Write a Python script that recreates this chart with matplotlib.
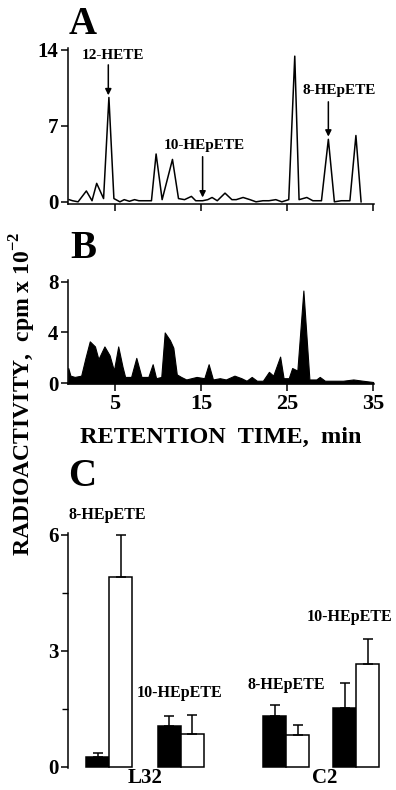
import matplotlib
matplotlib.use("Agg")
import matplotlib.pyplot as plt
import numpy as np

plt.rcParams["font.family"] = ["Liberation Serif", "DejaVu Serif"]
plt.rcParams["font.weight"] = "bold"
plt.rcParams["mathtext.fontset"] = "custom"
plt.rcParams["mathtext.rm"] = "Liberation Serif:bold"
plt.rcParams["mathtext.bf"] = "Liberation Serif:bold"

# -- Panel A : radio-HPLC trace (line) ------------------------------------
a_time = [-0.3, 0.1, 0.74, 1.7, 2.36, 2.9, 3.7, 4.32, 4.9, 5.6, 6.1, 6.7,
          7.3, 7.8, 8.6, 9.26, 9.8, 10.5, 11.7, 12.4, 13.1, 13.9, 14.4,
          15.2, 15.8, 16.3, 16.9, 17.8, 18.6, 19.1, 19.9, 20.7, 21.4,
          22.2, 22.9, 23.7, 24.4, 25.2, 25.9, 26.4, 27.3, 28.0, 29.0,
          29.8, 30.5, 31.3, 32.3, 33.0, 33.6]
a_cpm = [0.2, 0.1, 0.0, 1.0, 0.1, 1.7, 0.3, 9.6, 0.3, 0.0, 0.2, 0.05,
         0.2, 0.1, 0.1, 0.1, 4.4, 0.2, 3.9, 0.3, 0.2, 0.5, 0.1,
         0.1, 0.2, 0.4, 0.1, 0.8, 0.2, 0.2, 0.4, 0.2, 0.0,
         0.1, 0.1, 0.2, 0.0, 0.2, 13.4, 0.2, 0.4, 0.1, 0.1,
         5.75, 0.0, 0.1, 0.1, 6.1, 0.0]

# -- Panel B : radio-HPLC trace (filled) ----------------------------------
b_time = [-0.4, -0.15, 0.35, 1.1, 1.6, 2.1, 2.7, 3.1, 3.8, 4.4, 4.9, 5.4,
          5.9, 6.2, 6.9, 7.5, 8.1, 8.9, 9.4, 9.8, 10.4, 10.8, 11.4, 11.8,
          12.2, 12.7, 13.3, 14.5, 15.4, 15.9, 16.4, 17.2, 17.9, 18.9,
          19.7, 20.3, 20.9, 21.5, 22.2, 22.9, 23.4, 24.2, 24.6, 25.2,
          25.6, 26.2, 26.9, 27.6, 28.4, 28.8, 29.4, 30.4, 31.5, 32.7,
          33.8, 35.0]
b_cpm = [1.2, 0.6, 0.5, 0.6, 2.0, 3.3, 2.9, 1.9, 2.9, 2.2, 1.0, 2.9,
         1.3, 0.5, 0.5, 2.0, 0.5, 0.5, 1.5, 0.4, 0.5, 4.0, 3.4, 2.8,
         0.7, 0.5, 0.3, 0.5, 0.4, 1.5, 0.3, 0.4, 0.3, 0.6,
         0.4, 0.2, 0.5, 0.2, 0.2, 0.9, 0.6, 2.1, 0.4, 0.4,
         1.2, 1.0, 7.3, 0.3, 0.3, 0.5, 0.2, 0.2, 0.2, 0.3,
         0.2, 0.1]

# -- Panel C : bar chart --------------------------------------------------
c_labels = ["8-HEpETE", "10-HEpETE", "8-HEpETE", "10-HEpETE"]
c_black = [0.26, 1.05, 1.32, 1.51]
c_black_err = [0.09, 0.26, 0.29, 0.65]
c_white = [4.92, 0.86, 0.82, 2.66]
c_white_err = [1.08, 0.48, 0.26, 0.66]
c_groups = ["L32", "C2"]

W, H = 396, 790
fig = plt.figure(figsize=(W / 100, H / 100), dpi=100)


def px_axes(left, top, right, bottom):
    return fig.add_axes([left / W, 1 - bottom / H, (right - left) / W, (bottom - top) / H])


def style(ax):
    for s in ["top", "right"]:
        ax.spines[s].set_visible(False)
    for s in ["left", "bottom"]:
        ax.spines[s].set_linewidth(1.1)
    ax.tick_params(direction="out", length=5, width=1.1, labelsize=15, pad=2)


# -- A --------------------------------------------------------------------
axA = px_axes(68, 48, 374, 204)
style(axA)
axA.plot(a_time, a_cpm, color="black", lw=1.1)
axA.set_xlim(-0.43, 35.1)
axA.set_ylim(-0.2, 14.15)
axA.set_yticks([0, 7, 14])
axA.set_xticks([5, 15, 25, 35])
axA.set_xticklabels([])
arrow = dict(arrowstyle="-|>", lw=1.1, color="black", mutation_scale=9, shrinkA=0, shrinkB=0)
axA.annotate("", xy=(4.25, 9.8), xytext=(4.25, 12.6), arrowprops=arrow)
axA.text(4.8, 13.5, "12-HETE", ha="center", va="center", fontsize=11)
axA.annotate("", xy=(15.2, 0.4), xytext=(15.2, 4.15), arrowprops=arrow)
axA.text(15.4, 5.2, "10-HEpETE", ha="center", va="center", fontsize=11)
axA.annotate("", xy=(29.8, 6.0), xytext=(29.8, 9.2), arrowprops=arrow)
axA.text(31.0, 10.2, "8-HEpETE", ha="center", va="center", fontsize=11)

# -- B --------------------------------------------------------------------
axB = px_axes(68, 280, 374, 384.3)
style(axB)
axB.fill_between(b_time, b_cpm, 0, color="black", lw=0.8, edgecolor="black")
axB.set_xlim(-0.43, 35.1)
axB.set_ylim(-0.08, 8.13)
axB.set_yticks([0, 4, 8])
axB.set_xticks([5, 15, 25, 35])
axB.tick_params(axis="x", labelsize=16)

fig.text(221 / W, 1 - 437 / H, "RETENTION  TIME,  min", ha="center", va="center", fontsize=17.5)

# -- C --------------------------------------------------------------------
axC = px_axes(68, 533, 385, 768)
style(axC)
axC.spines["bottom"].set_visible(False)
pair_x = np.array([1.8, 4.9, 9.5, 12.55])
axC.bar(pair_x - 0.5, c_black, width=1.0, color="black", edgecolor="black", lw=1.1)
axC.bar(pair_x + 0.5, c_white, width=1.0, color="white", edgecolor="black", lw=1.1)
axC.errorbar(pair_x - 0.5, c_black, yerr=[np.zeros(4), c_black_err], fmt="none",
             ecolor="black", elinewidth=1.1, capsize=3.5, capthick=1.1)
axC.errorbar(pair_x + 0.5, c_white, yerr=[np.zeros(4), c_white_err], fmt="none",
             ecolor="black", elinewidth=1.1, capsize=3.5, capthick=1.1)
axC.set_xlim(0, 13.8)
axC.set_ylim(-0.03, 6.05)
axC.set_yticks([0, 3, 6])
axC.set_yticks([1.5, 4.5], minor=True)
axC.tick_params(axis="y", which="minor", length=4, width=1.0)
axC.set_xticks([])
lab_pos = [(1.7, 6.52), (4.87, 1.91), (9.52, 2.12), (12.26, 3.88)]
for (lx, ly), lab in zip(lab_pos, c_labels):
    axC.text(lx, ly, lab, ha="center", va="center", fontsize=11.5)
fig.text(145 / W, 1 - 788 / H, c_groups[0], ha="center", va="bottom", fontsize=15)
fig.text(325 / W, 1 - 788 / H, c_groups[1], ha="center", va="bottom", fontsize=15)

# -- shared y label and panel letters -------------------------------------
fig.text(23 / W, 1 - 394 / H, "RADIOACTIVITY,  cpm x 10$^{\\mathbf{-2}}$",
         rotation=90, ha="center", va="center", fontsize=17)
for letter, (lx, ly) in zip("ABC", [(83, 25), (83, 249), (82, 477)]):
    fig.text(lx / W, 1 - ly / H, letter, ha="center", va="center", fontsize=28)

fig.savefig("out.png", dpi=100)
